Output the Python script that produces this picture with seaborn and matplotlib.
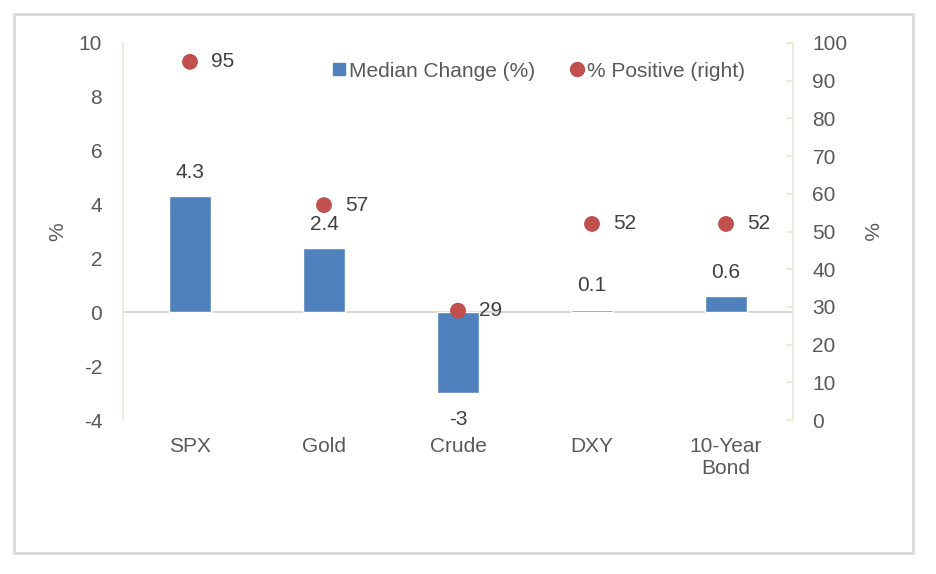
import seaborn as sns
import matplotlib.pyplot as plt
import pandas as pd
import numpy as np
from matplotlib.lines import Line2D
from matplotlib.patches import Rectangle

categories = ["SPX", "Gold", "Crude", "DXY", "10-Year\nBond"]
median_change = [4.3, 2.4, -3, 0.1, 0.6]
pct_positive = [95, 57, 29, 52, 52]
bar_labels = ["4.3", "2.4", "-3", "0.1", "0.6"]

blue = "#4F81BD"
red = "#C0504D"
txt = "#595959"
spine_c = "#EEECE1"

sns.set_theme(style="white")
plt.rcParams["font.family"] = ["Liberation Sans", "DejaVu Sans"]
plt.rcParams["font.size"] = 15
plt.rcParams["axes.unicode_minus"] = False

df = pd.DataFrame({"cat": categories, "median": median_change, "pos": pct_positive})

fig = plt.figure(figsize=(9.36, 5.74), dpi=100)
ax = fig.add_axes([123/936, 1-420/574, (793-123)/936, (420-43)/574])

sns.barplot(data=df, x="cat", y="median", color=blue, width=0.31,
            saturation=1, ax=ax, zorder=3)
ax.set_xlim(-0.5, 4.5)
ax.set_ylim(-4, 10)
ax.set_yticks(np.arange(-4, 11, 2))
ax.axhline(0, color="#D9D9D9", lw=1.5, zorder=2)

for i, (v, lab) in enumerate(zip(median_change, bar_labels)):
    off = 17 if v >= 0 else -19
    ax.annotate(lab, (i, v), xytext=(0, off), textcoords="offset points",
                ha="center", va="center", color="#404040", fontsize=15)

ax2 = ax.twinx()
sns.scatterplot(x=np.arange(len(categories)), y=pct_positive, color=red, s=130,
                edgecolor="none", ax=ax2, zorder=5)
ax2.set_ylim(0, 100)
ax2.set_yticks(np.arange(0, 101, 10))
for i, v in enumerate(pct_positive):
    ax2.annotate(str(v), (i, v), xytext=(15, 0), textcoords="offset points",
                 ha="left", va="center", color="#404040", fontsize=15)

for a in (ax, ax2):
    for s in ("top", "bottom"):
        a.spines[s].set_visible(False)
ax.spines["right"].set_visible(False)
ax2.spines["left"].set_visible(False)
ax.spines["left"].set_color(spine_c)
ax.spines["left"].set_linewidth(1.5)
ax2.spines["right"].set_color(spine_c)
ax2.spines["right"].set_linewidth(1.5)

ax.tick_params(axis="y", length=0, pad=15, colors=txt, labelsize=15)
ax.tick_params(axis="x", length=0, pad=12, colors=txt, labelsize=15)
ax2.tick_params(axis="y", direction="in", length=5, width=1.5, color=spine_c,
                pad=14, labelcolor=txt, labelsize=15)
ax.set_xlabel("")
ax.set_ylabel("%", color=txt, fontsize=15, labelpad=8)
ax2.set_ylabel("%", color=txt, fontsize=15, labelpad=15, rotation=270, va="center")

handles = [Line2D([], [], marker="s", color=blue, ls="none", markersize=8),
           Line2D([], [], marker="o", color=red, ls="none", markersize=10)]
fig.legend(handles, ["Median Change (%)", "% Positive (right)"], ncol=2,
           loc="center", bbox_to_anchor=(538/936, 1-71/574), frameon=False,
           fontsize=15, handletextpad=0.1, columnspacing=1.6, labelcolor=txt,
           handlelength=0.8)

fig.patches.append(Rectangle((14/936, 1-553/574), (913-14)/936, (553-14)/574,
                             transform=fig.transFigure, fill=False,
                             edgecolor="#D9D9D9", lw=2))

fig.savefig("out.png", dpi=100)
